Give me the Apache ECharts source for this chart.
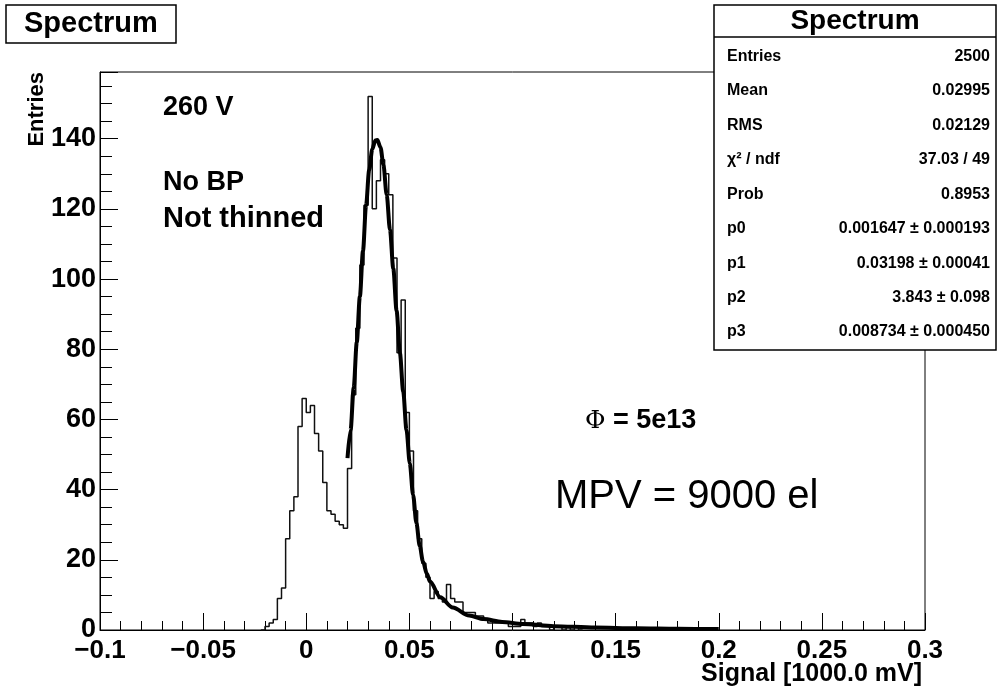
<!DOCTYPE html>
<html>
<head>
<meta charset="utf-8">
<script src="https://cdn.jsdelivr.net/npm/echarts@6/dist/echarts.min.js"></script>
<style>
html,body{margin:0;padding:0;background:#fff;}
#chart{width:1000px;height:690px;}
</style>
</head>
<body>
<div id="chart"></div>
<script>
// ---- Data ----
const binWidth = 0.002;
const firstBinLow = -0.022;
const counts = [0,1,2,3,9,12,26,34,38,58,
                66,62,64,56,51,42,34,33,31,30,
                29,46,67,86,104,121,152,120,128,134,
                130,124,106,79,94,62,51,34,26,19,
                15,9,11,9,8,13,9,8,8,5,
                5,5,4,4,3,2,2,2,2,2,
                1,1,1,3,2,2,1,2,1,1,
                0,1,1,0,1,0,1,0];

const fitX = [0.0200,0.0215,0.0230,0.0245,0.0260,0.0275,0.0290,0.0305,0.0320,0.0335,0.0345,0.0360,0.0374,0.0390,0.0406,0.0422,0.0438,0.0454,0.0470,0.0486,0.0502,0.0518,0.0534,0.0550,0.0566,0.0585,0.0600,0.0650,0.0710,0.0790,0.0860,0.0950,0.1050,0.1200,0.1400,0.1600,0.1800,0.2000];
const fitY = [49,57,69,82,95,108,121,131,137,139.5,139.6,137.5,132.6,124,114,103,91,79,68,57,47.5,38.5,30.5,24,19.5,16,13.8,9.3,6.4,4.1,3.1,2.3,1.7,1.1,0.7,0.5,0.35,0.25];

const statNames = ['Entries','Mean','RMS','χ² / ndf','Prob','p0','p1','p2','p3'];
const statValues = ['2500','0.02995','0.02129','37.03 / 49','0.8953','0.001647 ± 0.000193','0.03198 ± 0.00041','3.843 ± 0.098','0.008734 ± 0.000450'];

const notes = ['260 V','No BP','Not thinned'];

// ---- Build histogram outline (step line) ----
const histPts = [];
for (let i = 0; i < counts.length; i++) {
  histPts.push([firstBinLow + i * binWidth, counts[i]]);
}
histPts.push([firstBinLow + counts.length * binWidth, 0]);

const fitPts = fitX.map((x, i) => [x, fitY[i]]);

const FF = '"Liberation Sans", Arial, Helvetica, sans-serif';

function fmtX(v) {
  const r = Math.round(v * 1000) / 1000;
  if (Math.abs(r) < 1e-9) return '0';
  let s = String(r);
  return s.replace('-', '\u2212');
}

const chart = echarts.init(document.getElementById('chart'), null, {renderer: 'canvas'});

const statsTop = 5, statsLeft = 714, statsW = 282, statsH = 345;
const rowY = [57, 91, 126, 160, 195, 229, 264, 298, 332];

const graphics = [];
// Stats box
graphics.push({type:'rect', z:100, shape:{x:statsLeft, y:statsTop, width:statsW, height:statsH}, style:{fill:'#fff', stroke:'#000', lineWidth:1.5}});
graphics.push({type:'line', z:101, shape:{x1:statsLeft, y1:37, x2:statsLeft+statsW, y2:37}, style:{stroke:'#000', lineWidth:1.5}});
graphics.push({type:'text', z:101, x:statsLeft+statsW/2, y:21, style:{text:'Spectrum', font:'bold 28px '+FF, fill:'#000', align:'center', verticalAlign:'middle', textAlign:'center', textVerticalAlign:'middle'}});
statNames.forEach((n, i) => {
  graphics.push({type:'text', z:101, x:727, y:rowY[i], style:{text:n, font:'bold 16px '+FF, fill:'#000', align:'left', verticalAlign:'middle', textAlign:'left', textVerticalAlign:'middle'}});
  graphics.push({type:'text', z:101, x:990, y:rowY[i], style:{text:statValues[i], font:'bold 16px '+FF, fill:'#000', align:'right', verticalAlign:'middle', textAlign:'right', textVerticalAlign:'middle'}});
});
// Annotations
const noteY = [108, 183, 219];
const noteSize = [27, 27, 29];
notes.forEach((t, i) => {
  graphics.push({type:'text', z:50, x:163, y:noteY[i], style:{text:t, font:'bold ' + noteSize[i] + 'px '+FF, fill:'#000', align:'left', verticalAlign:'middle', textAlign:'left', textVerticalAlign:'middle'}});
});
graphics.push({type:'text', z:50, x:585, y:421, style:{text:'{p|Φ}{b| = 5e13}', rich:{p:{font:'25px "DejaVu Serif", serif', fill:'#000'}, b:{font:'bold 27px '+FF, fill:'#000'}}, align:'left', verticalAlign:'middle', textAlign:'left', textVerticalAlign:'middle'}});
graphics.push({type:'text', z:50, x:555, y:497, style:{text:'MPV = 9000 el', font:'40px '+FF, fill:'#000', align:'left', verticalAlign:'middle', textAlign:'left', textVerticalAlign:'middle'}});
// Axis titles
graphics.push({type:'text', z:50, x:922, y:674, style:{text:'Signal [1000.0 mV]', font:'bold 25px '+FF, fill:'#000', align:'right', verticalAlign:'middle', textAlign:'right', textVerticalAlign:'middle'}});
graphics.push({type:'text', z:50, x:37, y:72, rotation:Math.PI/2, style:{text:'Entries', font:'bold 22px '+FF, fill:'#000', align:'right', verticalAlign:'middle', textAlign:'right', textVerticalAlign:'middle'}});

const option = {
  backgroundColor: '#fff',
  animation: false,
  title: {
    text: 'Spectrum', left: 6, top: 5,
    borderColor: '#000', borderWidth: 1.5,
    padding: [3, 18, 3, 18],
    textStyle: {fontSize: 29, fontWeight: 'bold', color: '#000', fontFamily: FF, lineHeight: 32}
  },
  grid: {left: 100, top: 72, width: 825, height: 558, show: true, borderColor: '#000', borderWidth: 1, backgroundColor: 'transparent'},
  xAxis: {
    type: 'value', min: -0.1, max: 0.3, interval: 0.05,
    axisLine: {show: true, onZero: false, lineStyle: {color: '#000', width: 1}},
    axisTick: {show: true, inside: true, length: 17, lineStyle: {color: '#000', width: 1}},
    minorTick: {show: true, splitNumber: 5, length: 9, lineStyle: {color: '#000', width: 1}},
    splitLine: {show: false},
    axisLabel: {formatter: fmtX, color: '#000', fontSize: 26, fontWeight: 'bold', fontFamily: FF, margin: 8}
  },
  yAxis: {
    type: 'value', min: 0, max: 159, interval: 20,
    axisLine: {show: true, onZero: false, lineStyle: {color: '#000', width: 1}},
    axisTick: {show: true, inside: true, length: 18, lineStyle: {color: '#000', width: 1}},
    minorTick: {show: true, splitNumber: 4, length: 12, lineStyle: {color: '#000', width: 1}},
    splitLine: {show: false},
    axisLabel: {color: '#000', fontSize: 27, fontWeight: 'bold', fontFamily: FF, margin: 4, showMaxLabel: false,
      formatter: v => (Math.abs(v % 20) < 1e-6 ? String(v) : '')}
  },
  series: [
    {
      name: 'Spectrum', type: 'line', step: 'end', data: histPts,
      symbol: 'none', lineStyle: {color: '#111', width: 1.5}, z: 3, silent: true
    },
    {
      name: 'fit', type: 'line', data: fitPts, smooth: 0.3, smoothMonotone: 'x',
      symbol: 'none', lineStyle: {color: '#000', width: 4}, z: 4, silent: true
    }
  ],
  graphic: graphics
};
chart.setOption(option);
</script>
</body>
</html>
